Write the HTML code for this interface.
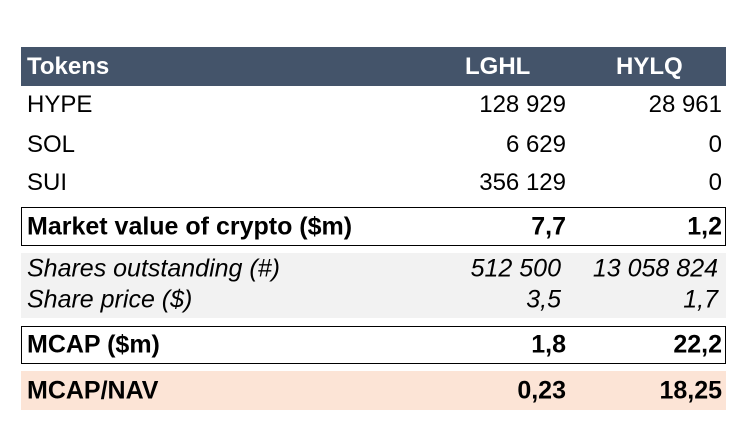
<!DOCTYPE html>
<html><head><meta charset="utf-8"><style>
body{margin:0;width:738px;height:432px;background:#fff;position:relative;font-family:"Liberation Sans",sans-serif;overflow:hidden}
.r{position:absolute;left:21px;width:705px;box-sizing:border-box}
.t{position:absolute;white-space:nowrap;line-height:1;transform:translateY(-50%)}
.l{left:6px}
.c1{right:160px}
.c2{right:4px}
.b{font-weight:bold}
.i{font-style:italic}
</style></head><body>
<div class="r" style="top:47px;height:39px;background:#44546A;color:#fff;font-size:24px;font-weight:bold">
<span class="t l" style="top:20px">Tokens</span>
<span class="t" style="left:444px;top:20px">LGHL</span>
<span class="t" style="left:595px;top:20px">HYLQ</span>
</div>
<div class="r" style="top:86px;height:39px;font-size:24px">
<span class="t l" style="top:19px">HYPE</span><span class="t c1" style="top:19px">128 929</span><span class="t c2" style="top:19px">28 961</span></div>
<div class="r" style="top:126px;height:39px;font-size:24px">
<span class="t l" style="top:19px">SOL</span><span class="t c1" style="top:19px">6 629</span><span class="t c2" style="top:19px">0</span></div>
<div class="r" style="top:164px;height:39px;font-size:24px">
<span class="t l" style="top:19px">SUI</span><span class="t c1" style="top:19px">356 129</span><span class="t c2" style="top:19px">0</span></div>
<div class="r b" style="top:207px;height:39px;border:1.5px solid #000;font-size:25px">
<span class="t l" style="top:19px;left:5px">Market value of crypto ($m)</span><span class="t c1" style="top:19px;right:159px">7,7</span><span class="t c2" style="top:19px;right:3px">1,2</span></div>
<div class="r i" style="top:253px;height:65px;background:#F2F2F2;font-size:25px">
<span class="t l" style="top:16px">Shares outstanding (#)</span><span class="t c1" style="top:16px;right:165px">512 500</span><span class="t c2" style="top:16px;right:8px">13 058 824</span>
<span class="t l" style="top:47px">Share price ($)</span><span class="t c1" style="top:47px;right:165px">3,5</span><span class="t c2" style="top:47px;right:8px">1,7</span></div>
<div class="r b" style="top:326px;height:38px;border:1.5px solid #000;font-size:25px">
<span class="t l" style="top:18px;left:5px">MCAP ($m)</span><span class="t c1" style="top:18px;right:159px">1,8</span><span class="t c2" style="top:18px;right:3px">22,2</span></div>
<div class="r b" style="top:371px;height:39px;background:#FCE4D6;font-size:25px">
<span class="t l" style="top:20px">MCAP/NAV</span><span class="t c1" style="top:20px">0,23</span><span class="t c2" style="top:20px">18,25</span></div>
</body></html>
